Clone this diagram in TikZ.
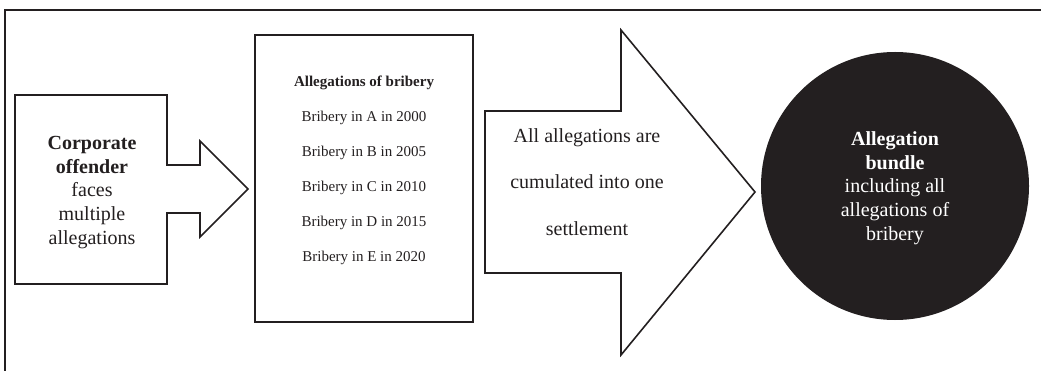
\documentclass[tikz,border=0pt]{standalone}
\usepackage{fontspec}
\setmainfont{Liberation Serif}
\definecolor{ink}{HTML}{231F20}
\begin{document}
\begin{tikzpicture}[x=1pt,y=-1pt,
  outline/.style={draw=ink,line width=1.6pt,fill=white,line join=miter},
  big/.style={font=\fontsize{20}{23.75}\selectfont,align=center,text=ink,inner sep=0pt},
  small/.style={font=\fontsize{15}{35}\selectfont,align=center,text=ink,inner sep=0pt}]
\useasboundingbox (0,0) rectangle (1041,371);
% frame
\draw[ink,line width=2.2pt] (5,371) -- (5,10) -- (1041,10);
% left box + arrow
\draw[outline] (15,95) -- (167,95) -- (167,165) -- (200,165) -- (200,141) -- (248,189)
  -- (200,237) -- (200,213) -- (167,213) -- (167,284) -- (15,284) -- cycle;
\node[big] (offender) at (92,192.5) {\textbf{Corporate}\\\textbf{offender}\\faces\\multiple\\allegations};
% middle box
\node[draw=ink,line width=1.6pt,minimum width=218pt,minimum height=287pt,inner sep=0pt] (list) at (364,178.5) {};
\node[small] (listtext) at (364,170) {\textbf{Allegations of bribery}\\Bribery in A in 2000\\Bribery in B in 2005\\Bribery in C in 2010\\Bribery in D in 2015\\Bribery in E in 2020};
% big arrow
\draw[outline] (485,111) -- (621,111) -- (621,30) -- (755,192) -- (621,355) -- (621,273) -- (485,273) -- cycle;
\node[font=\fontsize{20}{46.5}\selectfont,align=center,text=ink,inner sep=0pt] (cumul) at (587,182) {All allegations are\\cumulated into one\\settlement};
% circle
\node[circle,fill=ink,minimum size=268pt,inner sep=0pt] (bundle) at (895,186) {};
\node[big,text=white] (bundletext) at (895,188) {\textbf{Allegation}\\\textbf{bundle}\\including all\\allegations of\\bribery};
\end{tikzpicture}
\end{document}
